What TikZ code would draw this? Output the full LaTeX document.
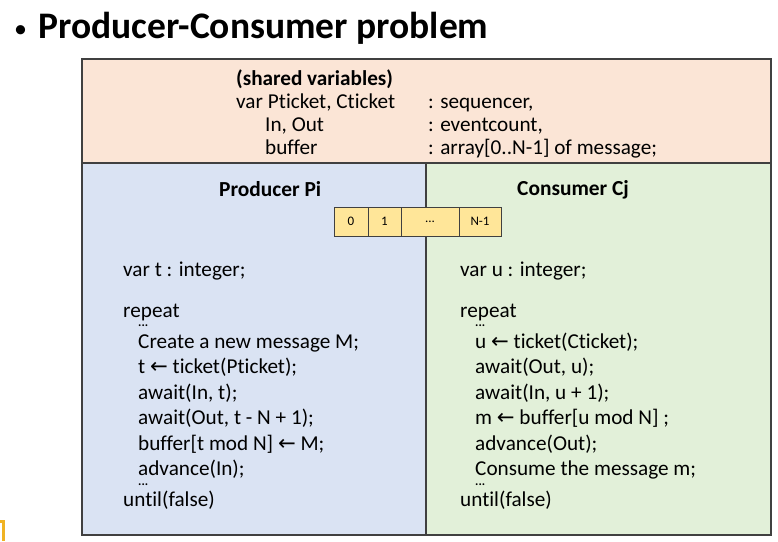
\documentclass[tikz,border=0pt]{standalone}
\usepackage{fontspec}
\setmainfont{Carlito}[Ligatures={NoCommon,NoRequired,NoContextual}]
\newfontfamily\arrowfont{DejaVu Sans}
\usetikzlibrary{positioning}
\definecolor{sharedpink}{HTML}{FBE5D6}
\definecolor{prodblue}{HTML}{DAE3F3}
\definecolor{consgreen}{HTML}{E2F0D9}
\definecolor{bufyellow}{HTML}{FFE699}
\definecolor{framegray}{HTML}{404040}
\definecolor{markorange}{HTML}{F0B323}
\newcommand{\getsarrow}{{\arrowfont\char"2190}}

\begin{document}
\begin{tikzpicture}[x=1pt, y=-1pt, font=\fontsize{21.2}{25}\selectfont,
panel/.style={rectangle, draw=framegray, line width=1.3pt, fill=#1,
anchor=north west, inner sep=0pt, outer sep=0pt},
code/.style={anchor=base west, inner sep=0pt},
dots/.style={anchor=base west, inner sep=0pt, font=\fontsize{12.5}{14}\bfseries},
heading/.style={anchor=base west, inner sep=0pt, font=\fontsize{21.4}{25}\bfseries},
cell/.style={rectangle, draw=framegray, line width=1pt, fill=bufyellow,
minimum height=29pt, inner sep=0pt, outer sep=0pt, font=\fontsize{13}{15}\selectfont}
]
\useasboundingbox (0,0) rectangle (778,541);

% Title
\node[code, font=\fontsize{26}{30}\selectfont] (bullet) at (14,37) {\textbullet};
\node[code, font=\fontsize{37.5}{42}\bfseries] (title) at (38,38) {Producer-Consumer problem};

% Panels
\node[panel=sharedpink, minimum width=689pt, minimum height=104pt] (shared) at (82,59) {};
\node[panel=prodblue, minimum width=344pt, minimum height=372pt] (prod) at (82,163) {};
\node[panel=consgreen, minimum width=345pt, minimum height=372pt] (cons) at (426,163) {};

% Shared variables
\node[heading, font=\fontsize{21.2}{25}\bfseries] (shtitle) at (236,85) {(shared variables)};
\node[code] (shv1) at ([yshift=-23pt]shtitle.base west) {var Pticket, Cticket};
\node[code] (shv2) at ([xshift=29pt,yshift=-23pt]shv1.base west) {In, Out};
\node[code] (shv3) at ([yshift=-23pt]shv2.base west) {buffer};
\node[code] (sht1) at (428,108) {: sequencer,};
\node[code] (sht2) at ([yshift=-23pt]sht1.base west) {: eventcount,};
\node[code] (sht3) at ([yshift=-23pt]sht2.base west) {: array[0..N-1] of message;};

% Headings
\node[heading] (prodhead) at (219,196) {Producer Pi};
\node[heading] (conshead) at (517,195) {Consumer Cj};

% Buffer
\node[cell, minimum width=34pt, anchor=north west] (buf0) at (334,207) {0};
\node[cell, minimum width=33pt, right=0pt of buf0] (buf1) {1};
\node[cell, minimum width=58pt, right=0pt of buf1] (buf2) {...};
\node[cell, minimum width=42pt, right=0pt of buf2] (buf3) {N-1};

% Producer
\node[code] (pvar) at (123,276) {var t : integer;};
\node[code] (prep) at (123,317) {repeat};
\node[dots] (pdotsa) at ([xshift=15pt,yshift=-9.5pt]prep.base west) {...};
\node[code] (pl1) at ([xshift=15pt,yshift=-31pt]prep.base west) {Create a new message M;};
\node[code] (pl2) at ([yshift=-25.5pt]pl1.base west) {t \getsarrow{} ticket(Pticket);};
\node[code] (pl3) at ([yshift=-25.5pt]pl2.base west) {await(In, t);};
\node[code] (pl4) at ([yshift=-25.5pt]pl3.base west) {await(Out, t - N + 1);};
\node[code] (pl5) at ([yshift=-25.5pt]pl4.base west) {buffer[t mod N] \getsarrow{} M;};
\node[code] (pl6) at ([yshift=-25.5pt]pl5.base west) {advance(In);};
\node[dots] (pdotsb) at ([yshift=-9.5pt]pl6.base west) {...};
\node[code] (puntil) at ([xshift=-15pt,yshift=-31pt]pl6.base west) {until(false)};

% Consumer
\node[code] (cvar) at (460,276) {var u : integer;};
\node[code] (crep) at (460,317) {repeat};
\node[dots] (cdotsa) at ([xshift=15pt,yshift=-9.5pt]crep.base west) {...};
\node[code] (cl1) at ([xshift=15pt,yshift=-31pt]crep.base west) {u \getsarrow{} ticket(Cticket);};
\node[code] (cl2) at ([yshift=-25.5pt]cl1.base west) {await(Out, u);};
\node[code] (cl3) at ([yshift=-25.5pt]cl2.base west) {await(In, u + 1);};
\node[code] (cl4) at ([yshift=-25.5pt]cl3.base west) {m \getsarrow{} buffer[u mod N] ;};
\node[code] (cl5) at ([yshift=-25.5pt]cl4.base west) {advance(Out);};
\node[code] (cl6) at ([yshift=-25.5pt]cl5.base west) {Consume the message m;};
\node[dots] (cdotsb) at ([yshift=-9.5pt]cl6.base west) {...};
\node[code] (cuntil) at ([xshift=-15pt,yshift=-31pt]cl6.base west) {until(false)};

% Cut-off mark
\fill[markorange] (0,520) rectangle (5,523);
\fill[markorange] (2,523) rectangle (5,541);

\end{tikzpicture}
\end{document}
